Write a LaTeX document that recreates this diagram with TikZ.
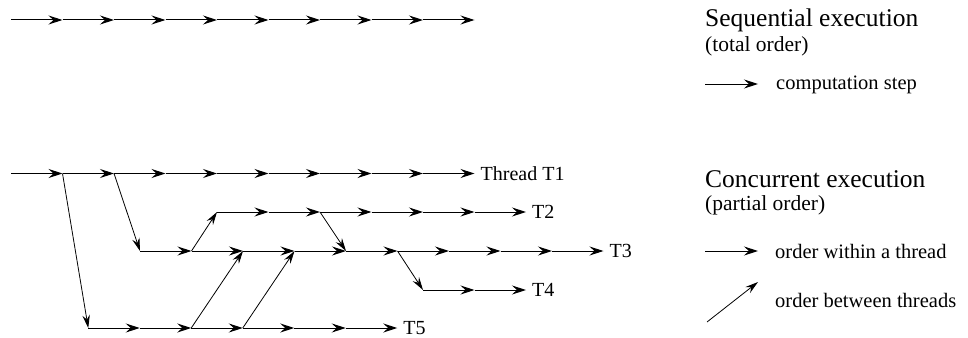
\documentclass[tikz,border=0pt]{standalone}
\usepackage{fontspec}
\setmainfont{Liberation Serif}
\usetikzlibrary{arrows.meta}
\tikzset{
  stepline/.style={line width=1pt, -{Stealth[length=14pt,width=9pt,inset=5pt]}},
  crossline/.style={line width=0.8pt, -{Stealth[length=13pt,width=7.5pt,inset=4.5pt]}},
  title/.style={anchor=base west, inner sep=0pt, font=\fontsize{25.5pt}{29pt}\selectfont},
  subtitle/.style={anchor=base west, inner sep=0pt, font=\fontsize{21.5pt}{24pt}\selectfont},
  legend/.style={anchor=base west, inner sep=0pt, font=\fontsize{20.5pt}{24pt}\selectfont},
  tlabel/.style={anchor=west, inner sep=0pt, font=\fontsize{20pt}{24pt}\selectfont},
}
\begin{document}
\begin{tikzpicture}[x=1pt,y=-1pt]
\useasboundingbox (0,0) rectangle (968,337);
% coordinates
\foreach \i in {0,...,9} {
  \coordinate (s\i) at ({11+51.5*\i},20);
  \coordinate (a\i) at ({11+51.5*\i},173.5);
  \coordinate (b\i) at ({140+51.5*\i},251);
}
\foreach \i in {0,...,6} {
  \coordinate (c\i) at ({217+51.5*\i},212);
  \coordinate (e\i) at ({88.25+51.5*\i},328);
}
\foreach \i in {0,...,2} {
  \coordinate (d\i) at ({423+51.5*\i},290);
}
% steps within threads
\foreach \i [evaluate=\i as \j using int(\i+1)] in {0,...,8} {
  \draw[stepline] (s\i) -- (s\j);
  \draw[stepline] (a\i) -- (a\j);
  \draw[stepline] (b\i) -- (b\j);
}
\foreach \i [evaluate=\i as \j using int(\i+1)] in {0,...,5} {
  \draw[stepline] (c\i) -- (c\j);
  \draw[stepline] (e\i) -- (e\j);
}
\foreach \i [evaluate=\i as \j using int(\i+1)] in {0,1} {
  \draw[stepline] (d\i) -- (d\j);
}
% cross-thread arrows
\draw[crossline] (a1) -- (e0);
\draw[crossline] (a2) -- (b0);
\draw[crossline] (b1) -- (c0);
\draw[crossline] (c2) -- (b4);
\draw[crossline] (b5) -- (d0);
\draw[crossline] (e2) -- (b2);
\draw[crossline] (e3) -- (b3);
% thread labels
\node[tlabel] (l1) at ([xshift=6pt]a9) {Thread T1};
\node[tlabel] (l2) at ([xshift=6pt]c6) {T2};
\node[tlabel] (l3) at ([xshift=6pt]b9) {T3};
\node[tlabel] (l4) at ([xshift=6pt]d2) {T4};
\node[tlabel] (l5) at ([xshift=6pt]e6) {T5};
% legend
\node[title] (t1) at (705,27) {Sequential execution};
\node[subtitle] (t2) at (705,52) {(total order)};
\coordinate (g1a) at (705,84);
\coordinate (g1b) at (758,84);
\draw[stepline] (g1a) -- (g1b);
\node[legend] (t3) at (776,89) {computation step};
\node[title] (t4) at (705,187) {Concurrent execution};
\node[subtitle] (t5) at (705,210) {(partial order)};
\coordinate (g2a) at (705,251);
\coordinate (g2b) at (758,251);
\draw[stepline] (g2a) -- (g2b);
\node[legend] (t6) at (775,258) {order within a thread};
\coordinate (g3a) at (707,322);
\coordinate (g3b) at (758,282);
\draw[crossline] (g3a) -- (g3b);
\node[legend] (t7) at (775,307) {order between threads};
\end{tikzpicture}
\end{document}
